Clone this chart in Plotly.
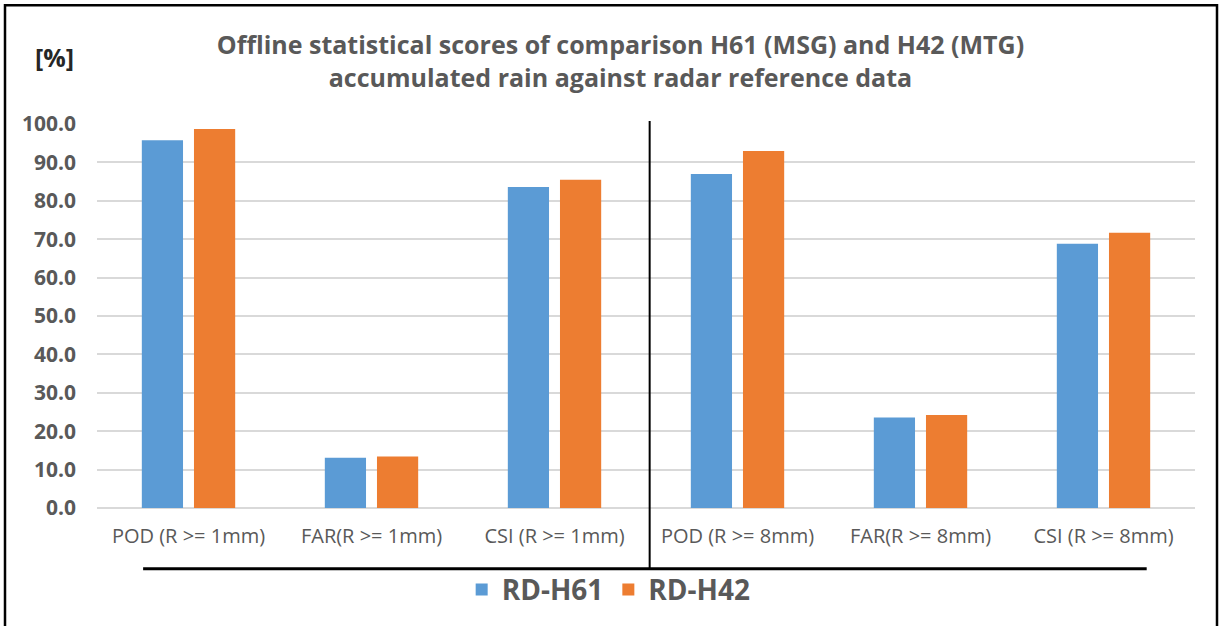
import plotly.graph_objects as go

categories = ["POD (R >= 1mm)", "FAR(R >= 1mm)", "CSI (R >= 1mm)",
              "POD (R >= 8mm)", "FAR(R >= 8mm)", "CSI (R >= 8mm)"]
rd_h61 = [95.8, 13.1, 83.6, 87.0, 23.6, 68.8]
rd_h42 = [98.7, 13.4, 85.5, 93.0, 24.2, 71.7]
y_ticks = [0, 10, 20, 30, 40, 50, 60, 70, 80, 90, 100]

BLUE = "#5b9bd5"
ORANGE = "#ed7d31"
GREY = "#595959"
FONT = "Open Sans"

fig = go.Figure()
fig.add_trace(go.Bar(name="RD-H61", x=categories, y=rd_h61, marker_color=BLUE,
                     marker_line_width=0))
fig.add_trace(go.Bar(name="RD-H42", x=categories, y=rd_h42, marker_color=ORANGE,
                     marker_line_width=0))

fig.update_layout(
    width=1219, height=626,
    paper_bgcolor="white", plot_bgcolor="white",
    margin=dict(l=97, r=24, t=124, b=117),
    barmode="group", bargap=0.43, bargroupgap=0.21,
    font=dict(family=FONT, color=GREY),
    title=dict(
        text="Offline statistical scores of comparison H61 (MSG) and H42 (MTG)<br>"
             "accumulated rain against radar reference data",
        x=0.509, xanchor="center", y=1 - 54 / 626, yanchor="middle",
        xref="container", yref="container",
        font=dict(family=FONT, size=25, color=GREY, weight="bold"),
    ),
    showlegend=True,
    legend=dict(orientation="h", x=0.466, xanchor="center", y=-0.21, yanchor="middle",
                bgcolor="rgba(0,0,0,0)",
                font=dict(family=FONT, size=28, color=GREY, weight="bold"),
                traceorder="normal"),
    xaxis=dict(showgrid=False, showline=False, ticks="", ticklabelstandoff=14,
               tickfont=dict(family=FONT, size=20, color=GREY)),
    yaxis=dict(range=[0, 100], tickvals=y_ticks, tickformat=".1f",
               showgrid=True, gridcolor="#d9d9d9", gridwidth=1.5,
               zeroline=True, zerolinecolor="#d9d9d9", zerolinewidth=1.5,
               showline=False, ticks="", ticklabelstandoff=20,
               tickfont=dict(family=FONT, size=21, color=GREY, weight="bold")),
)

# unit label above the value axis
fig.add_annotation(text="[%]", xref="paper", yref="paper", x=-0.019, y=1.175,
                   xanchor="right", yanchor="middle", showarrow=False,
                   font=dict(family=FONT, size=25, color="#262626", weight="bold"))

# divider between the 1 mm and 8 mm threshold groups
fig.add_shape(type="line", xref="x", yref="paper", x0=2.52, x1=2.52,
              y0=1.008, y1=-0.158, line=dict(color="black", width=2))
# baseline under the category labels
fig.add_shape(type="line", xref="paper", yref="paper", x0=0.042, x1=0.956,
              y0=-0.158, y1=-0.158, line=dict(color="black", width=3))
# outer frame
fig.add_shape(type="rect", xref="paper", yref="paper",
              x0=-92 / 1098, x1=1120 / 1098, y0=-0.32, y1=504 / 385,
              line=dict(color="black", width=2.5))

fig.write_html("out.html")
